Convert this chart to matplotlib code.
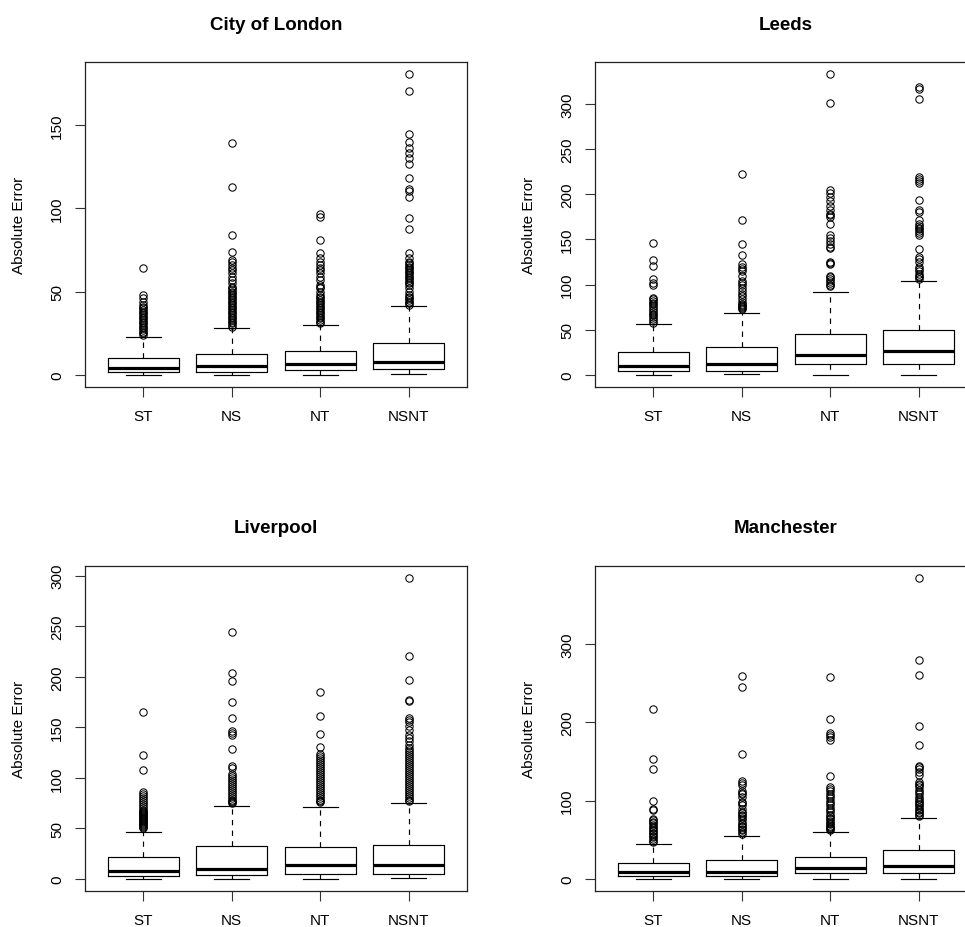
import matplotlib
matplotlib.use("Agg")
import matplotlib.pyplot as plt

plt.rcParams['font.family'] = ['Liberation Sans', 'DejaVu Sans']

categories = ["ST", "NS", "NT", "NSNT"]
cities = ["City of London", "Leeds", "Liverpool", "Manchester"]

# ---- City of London ----
london_whislo = [0, 0, 0, 0.6]
london_q1 = [2, 2, 2.8, 3.4]
london_med = [4.2, 5.6, 6.8, 7.8]
london_q3 = [10, 12.6, 14.2, 19.2]
london_whishi = [23, 28.4, 30, 41.3]
london_out_ST = [24, 25, 26, 27, 28, 29, 30, 31, 32, 33, 34, 35, 36, 37, 38, 39, 40, 41, 42, 44, 46, 48, 64]
london_out_NS = [29, 30, 31, 32, 33, 34, 35, 36, 37, 38, 39, 40, 41, 42, 43, 44, 45, 46, 47, 48, 49, 50, 51,
                 52, 53, 55, 57, 59, 61, 63, 64, 66, 68, 69, 74, 84, 113, 139]
london_out_NT = [31, 32, 33, 34, 35, 36, 37, 38, 39, 40, 41, 42, 43, 44, 45, 46, 47, 48, 50, 52, 53, 54, 57,
                 59, 61, 63, 64, 66, 68, 70, 73, 81, 95, 96.5]
london_out_NSNT = [42, 43, 44, 45, 46, 47, 48, 50, 52, 54, 55, 56, 57, 58, 59, 60, 61, 62, 63, 64, 65, 66, 67,
                   68, 70, 73, 87.5, 94.3, 106.6, 110.5, 111.8, 118.2, 126.6, 130.5, 133.5, 136, 139.6, 144.8,
                   170.4, 180.7]

# ---- Leeds ----
leeds_whislo = [0, 1, 0, 0]
leeds_q1 = [4, 4, 12, 12]
leeds_med = [10, 12.5, 22.5, 26.5]
leeds_q3 = [25.4, 31, 45.3, 49.3]
leeds_whishi = [56.3, 68.8, 91.6, 104]
leeds_out_ST = [58, 60, 62, 64, 66, 68, 70, 72, 74, 76, 78, 80, 82, 84, 85, 100, 102, 106, 120.7, 127.3, 146]
leeds_out_NS = [73, 74, 75, 76, 77, 79, 81, 84, 87, 90, 93, 96, 100, 102, 104, 110, 115, 117, 119, 123, 133,
                145, 171, 222.3]
leeds_out_NT = [98, 100, 102, 104, 106, 108, 110, 123, 124, 125, 140, 142, 145, 148, 152, 155, 167, 175, 177,
                178, 182, 187, 192, 197, 201, 205, 300.7, 333]
leeds_out_NSNT = [106, 108, 110, 112, 115, 117, 120, 125, 128, 131, 139, 155, 157, 159, 161, 163, 165, 167, 172,
                  180, 183, 193.6, 212, 215, 217, 219, 305.5, 316, 319]

# ---- Liverpool ----
liv_whislo = [0, 0, 0, 1]
liv_q1 = [2.6, 3.6, 4.6, 4.6]
liv_med = [7.9, 9.5, 13.8, 14.2]
liv_q3 = [21.7, 32.6, 31.3, 33.3]
liv_whishi = [46.8, 72.4, 71.5, 75.4]
liv_out_ST = [50, 51, 52, 53, 54, 55, 56, 57, 58, 59, 60, 61, 62, 63, 64, 65, 66, 67, 68, 70, 72, 74, 76, 78,
              80, 82, 84, 86, 108, 122.8, 165.3]
liv_out_NS = [75, 76, 77, 78, 80, 82, 84, 86, 88, 90, 92, 94, 96, 98, 100, 102, 104, 110, 112, 128.7, 142, 144,
              146, 159.4, 175, 196, 204, 244.3]
liv_out_NT = [76, 77, 78, 80, 82, 84, 86, 88, 90, 92, 94, 96, 98, 100, 102, 104, 106, 108, 110, 112, 114, 116,
              118, 120, 122, 124, 130.7, 143.2, 161, 185]
liv_out_NSNT = [77, 78, 80, 82, 84, 86, 88, 90, 92, 94, 96, 98, 100, 102, 104, 106, 108, 110, 112, 114, 116, 118,
                120, 122, 124, 126, 128, 130, 133, 136, 139, 142, 147, 151, 155, 157, 159, 176, 177, 196.9,
                220.6, 297.7]

# ---- Manchester ----
man_whislo = [0, 0, 0, 0]
man_q1 = [3.8, 3.8, 7.6, 7.6]
man_med = [8.5, 8.5, 14, 16.6]
man_q3 = [20, 24.2, 28, 37]
man_whishi = [44.6, 54.8, 60.3, 78.2]
man_out_ST = [47, 49, 51, 53, 55, 57, 59, 61, 63, 65, 67, 69, 71, 73, 75, 77, 88, 89, 99.4, 140, 153, 217]
man_out_NS = [58, 60, 62, 64, 66, 68, 70, 72, 75, 78, 80, 82, 84, 86, 90, 95, 97, 99, 105, 108, 110, 112, 120,
              123, 125, 159.4, 245, 259]
man_out_NT = [63, 64, 65, 66, 68, 70, 72, 74, 76, 78, 80, 82, 85, 88, 91, 94, 97, 100, 103, 106, 109, 112, 115,
              118, 131, 178, 181, 184, 186, 204, 258]
man_out_NSNT = [80, 82, 84, 86, 88, 90, 92, 94, 96, 98, 100, 102, 105, 108, 111, 114, 117, 120, 122, 124, 133,
                137, 140, 143, 145, 170.8, 195, 260.5, 279.6, 384.6]

yticks_london = [0, 50, 100, 150]
yticks_leeds = [0, 50, 100, 150, 200, 250, 300]
yticks_liv = [0, 50, 100, 150, 200, 250, 300]
yticks_man = [0, 100, 200, 300]

panels = [
    ("City of London", london_whislo, london_q1, london_med, london_q3, london_whishi,
     [london_out_ST, london_out_NS, london_out_NT, london_out_NSNT], yticks_london),
    ("Leeds", leeds_whislo, leeds_q1, leeds_med, leeds_q3, leeds_whishi,
     [leeds_out_ST, leeds_out_NS, leeds_out_NT, leeds_out_NSNT], yticks_leeds),
    ("Liverpool", liv_whislo, liv_q1, liv_med, liv_q3, liv_whishi,
     [liv_out_ST, liv_out_NS, liv_out_NT, liv_out_NSNT], yticks_liv),
    ("Manchester", man_whislo, man_q1, man_med, man_q3, man_whishi,
     [man_out_ST, man_out_NS, man_out_NT, man_out_NSNT], yticks_man),
]

W, H = 965, 928
fig = plt.figure(figsize=(W / 100, H / 100), dpi=100)

ax_w = 382 / W
ax_h = 325 / H
positions_px = [(85, 63), (595, 63), (85, 567), (595, 567)]

lw = 0.85
for (title, wlo, q1, med, q3, whi, outs, yt), (px, py) in zip(panels, positions_px):
    ax = fig.add_axes([px / W, 1 - (py + 325) / H, ax_w, ax_h])
    stats = []
    for i, cat in enumerate(categories):
        stats.append(dict(label=cat, whislo=wlo[i], q1=q1[i], med=med[i], q3=q3[i],
                          whishi=whi[i], fliers=outs[i]))
    ax.bxp(stats, positions=[1, 2, 3, 4], widths=0.8, capwidths=0.4,
           boxprops=dict(color='black', linewidth=lw),
           medianprops=dict(color='black', linewidth=2.3, solid_capstyle='butt'),
           whiskerprops=dict(color='black', linewidth=lw, linestyle=(0, (4.5, 4.5))),
           capprops=dict(color='black', linewidth=lw),
           flierprops=dict(marker='o', markerfacecolor='none', markeredgecolor='black',
                           markersize=5.3, markeredgewidth=0.75, linestyle='none'))
    allv = wlo + whi + [v for o in outs for v in o]
    lo, hi = min(allv), max(allv)
    rng = hi - lo
    ax.set_ylim(lo - 0.04 * rng, hi + 0.04 * rng)
    ax.set_xlim(0.34, 4.66)
    ax.set_yticks(yt)
    ax.set_yticklabels([str(v) for v in yt], rotation=90, va='center', fontsize=11)
    ax.set_xticks([1, 2, 3, 4])
    ax.set_xticklabels(categories, fontsize=11)
    ax.tick_params(axis='both', length=7, width=0.8, color='#333333')
    ax.tick_params(axis='y', pad=8)
    ax.tick_params(axis='x', pad=9)
    for s in ax.spines.values():
        s.set_linewidth(0.9)
        s.set_color('#222222')
    ax.set_ylabel("Absolute Error", fontsize=11)
    ax.yaxis.set_label_coords(-0.155, 0.5)
    ax.text(0.5, 1 + 38 / 325, title, transform=ax.transAxes, ha='center', va='center',
            fontsize=13.5, fontweight='bold')

fig.savefig("out.png", dpi=100)
